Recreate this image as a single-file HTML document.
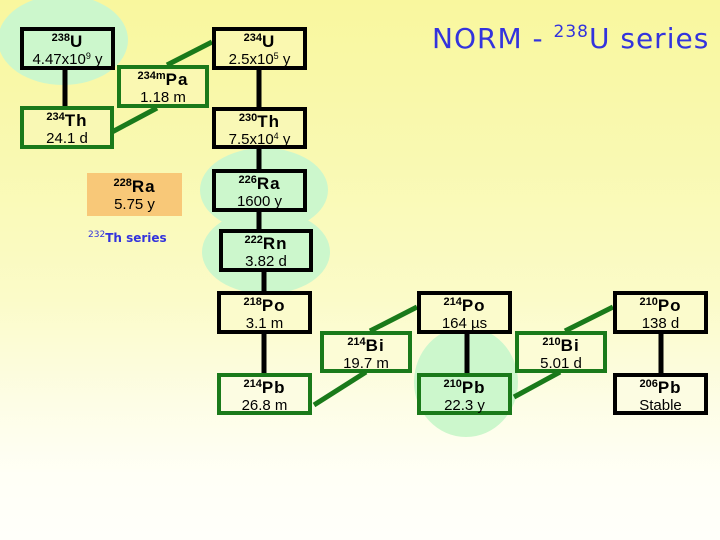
<!DOCTYPE html>
<html><head><meta charset="utf-8"><style>
html,body{margin:0;padding:0}
body{width:720px;height:540px;position:relative;overflow:hidden;
background:linear-gradient(to bottom,#f9f79e 0%,#f9f9b2 30%,#fbfbc8 55%,#fdfde6 75%,#fffff6 88%,#fffffa 100%);
font-family:"Liberation Sans",sans-serif}
svg{position:absolute;left:0;top:0}
.b{position:absolute;box-sizing:border-box;border:4px solid #000;text-align:center;color:#000}
.g{border-color:#1a7a1a}
.n{font-weight:bold;font-size:17px;line-height:19px;margin-top:1px;letter-spacing:1px}
.n sup{font-size:11px;vertical-align:6px;line-height:0;letter-spacing:0}
.t{font-size:15px;line-height:18px}
.t sup{font-size:9px;vertical-align:5px;line-height:0}
</style></head><body>
<svg width="720" height="540">
<g fill="#ccf7cc">
<ellipse cx="63" cy="40" rx="65" ry="45"/>
<ellipse cx="264" cy="190" rx="64" ry="42"/>
<ellipse cx="266" cy="252" rx="64" ry="42"/>
<ellipse cx="466" cy="382" rx="52" ry="55"/>
</g>
<g stroke="#000" stroke-width="5">
<line x1="65" y1="69" x2="65" y2="106"/>
<line x1="259" y1="69" x2="259" y2="107"/>
<line x1="259" y1="148" x2="259" y2="169"/>
<line x1="259" y1="211" x2="259" y2="229"/>
<line x1="264" y1="272" x2="264" y2="291"/>
<line x1="264" y1="334" x2="264" y2="373"/>
<line x1="467" y1="334" x2="467" y2="373"/>
<line x1="661" y1="334" x2="661" y2="373"/>
</g>
<g stroke="#1a7a1a" stroke-width="5">
<line x1="167" y1="65" x2="212" y2="42"/>
<line x1="112" y1="132" x2="157" y2="108"/>
<line x1="370" y1="331" x2="417" y2="307"/>
<line x1="314" y1="405" x2="366" y2="372"/>
<line x1="565" y1="331" x2="613" y2="307"/>
<line x1="514" y1="397" x2="560" y2="372"/>
</g>
</svg>

<div class="b" style="left:20px;top:27px;width:95px;height:43px"><div class="n"><sup>238</sup>U</div><div class="t">4.47x10<sup>9</sup> y</div></div>
<div class="b" style="left:212px;top:27px;width:95px;height:43px;background:#faf8b0"><div class="n"><sup>234</sup>U</div><div class="t">2.5x10<sup>5</sup> y</div></div>
<div class="b g" style="left:117px;top:65px;width:92px;height:43px;background:#faf8b2"><div class="n"><sup>234m</sup>Pa</div><div class="t">1.18 m</div></div>
<div class="b g" style="left:20px;top:106px;width:94px;height:43px;background:#f9f8b4"><div class="n"><sup>234</sup>Th</div><div class="t">24.1 d</div></div>
<div class="b" style="left:212px;top:107px;width:95px;height:42px;background:#f9f8b6"><div class="n"><sup>230</sup>Th</div><div class="t">7.5x10<sup>4</sup> y</div></div>
<div class="b" style="left:212px;top:169px;width:95px;height:43px"><div class="n"><sup>226</sup>Ra</div><div class="t">1600 y</div></div>
<div class="b" style="left:219px;top:229px;width:94px;height:43px"><div class="n"><sup>222</sup>Rn</div><div class="t">3.82 d</div></div>
<div class="b" style="left:87px;top:173px;width:95px;height:43px;border:none;background:#f8c878;padding-top:3px"><div class="n"><sup>228</sup>Ra</div><div class="t">5.75 y</div></div>
<div style="position:absolute;left:88px;top:230px;color:#3333dd;font-family:'DejaVu Sans',sans-serif;font-size:12px;font-weight:bold"><sup style="font-size:9px;font-weight:normal">232</sup>Th series</div>

<div class="b" style="left:217px;top:291px;width:95px;height:43px;background:#fbfbcc"><div class="n"><sup>218</sup>Po</div><div class="t">3.1 m</div></div>
<div class="b g" style="left:217px;top:373px;width:95px;height:42px;background:#fcfce2"><div class="n"><sup>214</sup>Pb</div><div class="t">26.8 m</div></div>
<div class="b g" style="left:320px;top:331px;width:92px;height:42px;background:#fcfcd6"><div class="n"><sup>214</sup>Bi</div><div class="t">19.7 m</div></div>
<div class="b" style="left:417px;top:291px;width:95px;height:43px;background:#fbfbcc"><div class="n"><sup>214</sup>Po</div><div class="t">164 µs</div></div>
<div class="b g" style="left:417px;top:373px;width:95px;height:42px"><div class="n"><sup>210</sup>Pb</div><div class="t">22.3 y</div></div>
<div class="b g" style="left:515px;top:331px;width:92px;height:42px;background:#fcfcd6"><div class="n"><sup>210</sup>Bi</div><div class="t">5.01 d</div></div>
<div class="b" style="left:613px;top:291px;width:95px;height:43px;background:#fbfbcc"><div class="n"><sup>210</sup>Po</div><div class="t">138 d</div></div>
<div class="b" style="left:613px;top:373px;width:95px;height:42px;background:#fcfce2"><div class="n"><sup>206</sup>Pb</div><div class="t">Stable</div></div>

<div style="position:absolute;left:432px;top:22px;color:#3333dd;font-family:'DejaVu Sans',sans-serif;font-size:28px;white-space:nowrap;letter-spacing:1px">NORM - <sup style="font-size:17px;vertical-align:11px;line-height:0">238</sup>U series</div>
</body></html>
